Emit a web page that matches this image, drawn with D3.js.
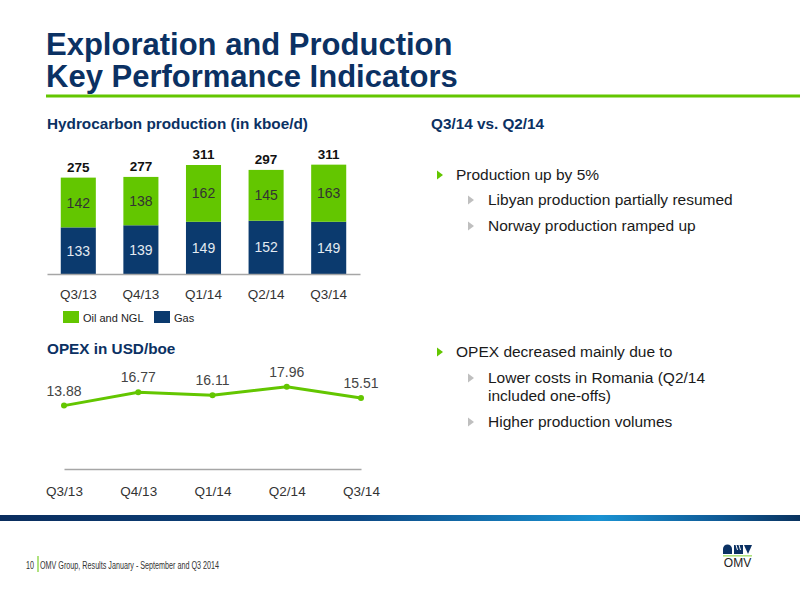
<!DOCTYPE html>
<html>
<head>
<meta charset="utf-8">
<script src="https://cdn.jsdelivr.net/npm/d3@7/dist/d3.min.js"></script>
<style>
  html, body { margin:0; padding:0; background:#fff; }
  svg { display:block; font-family: "Liberation Sans", Arial, Helvetica, sans-serif; }
</style>
</head>
<body>
<svg id="chart" width="800" height="600"></svg>
<script>
// ---------- data ----------
const categories = ["Q3/13", "Q4/13", "Q1/14", "Q2/14", "Q3/14"];
const gasValues  = [133, 139, 149, 152, 149];
const oilValues  = [142, 138, 162, 145, 163];
const totalValues = [275, 277, 311, 297, 311];
const opexValues = [13.88, 16.77, 16.11, 17.96, 15.51];
const legendLabels = ["Oil and NGL", "Gas"];
const titleLines = ["Exploration and Production", "Key Performance Indicators"];
const bullets = [
  {level:1, lines:["Production up by 5%"]},
  {level:2, lines:["Libyan production partially resumed"]},
  {level:2, lines:["Norway production ramped up"]},
  {level:1, lines:["OPEX decreased mainly due to"]},
  {level:2, lines:["Lower costs in Romania (Q2/14", "included one-offs)"]},
  {level:2, lines:["Higher production volumes"]}
];
const footerText = "OMV Group, Results January - September and Q3 2014";
const pageNumber = "10";

// ---------- styles ----------
const NAVY = "#0b3163";
const GAS = "#0b3a6e";
const GREEN = "#63c600";
const svg = d3.select("#chart");

// title
svg.selectAll("text.title").data(titleLines).join("text")
  .attr("x", 46).attr("y", (d,i) => 55 + i*32)
  .attr("font-size", 31).attr("font-weight", "bold").attr("fill", NAVY)
  .text(d => d);
svg.append("rect").attr("x", 46).attr("y", 94.5).attr("width", 754).attr("height", 3).attr("fill", GREEN);

// section headings
svg.append("text").attr("x", 47).attr("y", 129).attr("font-size", 15.3).attr("font-weight", "bold").attr("fill", NAVY)
  .text("Hydrocarbon production (in kboe/d)");
svg.append("text").attr("x", 431).attr("y", 129).attr("font-size", 15.3).attr("font-weight", "bold").attr("fill", NAVY)
  .text("Q3/14 vs. Q2/14");
svg.append("text").attr("x", 47).attr("y", 354).attr("font-size", 15.3).attr("font-weight", "bold").attr("fill", NAVY)
  .text("OPEX in USD/boe");

// ---------- bar chart ----------
const barData = categories.map((c,i) => ({cat:c, gas:gasValues[i], oil:oilValues[i], total:totalValues[i]}));
const x = d3.scaleBand().domain(categories).range([47, 360]).paddingInner(0.44).paddingOuter(0.22);
const y = d3.scaleLinear().domain([0, 311]).range([274, 165]);
const stack = d3.stack().keys(["gas", "oil"]);
const series = stack(barData);
const colors = {gas: GAS, oil: GREEN};
const labelColors = {gas: "#e4eaf1", oil: "#333333"};

const g = svg.append("g");
const layers = g.selectAll("g.layer").data(series).join("g").attr("class", "layer");
layers.selectAll("rect").data(d => d.map(v => Object.assign(v, {key: d.key}))).join("rect")
  .attr("x", d => x(d.data.cat))
  .attr("width", x.bandwidth())
  .attr("y", d => y(d[1]))
  .attr("height", d => y(d[0]) - y(d[1]))
  .attr("fill", d => colors[d.key]);
layers.selectAll("text").data(d => d).join("text")
  .attr("x", d => x(d.data.cat) + x.bandwidth()/2)
  .attr("y", d => (y(d[0]) + y(d[1]))/2 + 5)
  .attr("text-anchor", "middle").attr("font-size", 14)
  .attr("fill", d => labelColors[d.key])
  .text(d => d.data[d.key]);
// totals
g.selectAll("text.total").data(barData).join("text").attr("class", "total")
  .attr("x", d => x(d.cat) + x.bandwidth()/2)
  .attr("y", d => y(d.total) - 6)
  .attr("text-anchor", "middle").attr("font-size", 13.5).attr("font-weight", "bold").attr("fill", "#111")
  .text(d => d.total);
// axis
const xAxis = g.append("g").attr("transform", "translate(0,274)").call(d3.axisBottom(x).tickSize(0).tickPadding(15));
xAxis.select(".domain").attr("stroke", "#a6a6a6").attr("stroke-width", 1.5);
xAxis.selectAll("text").attr("font-size", 13.5).attr("fill", "#333").attr("font-family", null);

// legend
const legend = svg.append("g");
const legendItems = [{label: legendLabels[0], color: GREEN, x: 63}, {label: legendLabels[1], color: GAS, x: 154}];
legend.selectAll("rect").data(legendItems).join("rect")
  .attr("x", d => d.x).attr("y", 311).attr("width", 16).attr("height", 12).attr("fill", d => d.color);
legend.selectAll("text").data(legendItems).join("text")
  .attr("x", d => d.x + 20).attr("y", 322).attr("font-size", 11).attr("fill", "#222")
  .text(d => d.label);

// ---------- line chart ----------
const x2 = d3.scalePoint().domain(categories).range([64, 361]);
const y2 = d3.scaleLinear().domain([0, 17.96]).range([470, 386.7]);
const lg = svg.append("g");
const xAxis2 = lg.append("g").attr("transform", "translate(0,469)").call(d3.axisBottom(x2).tickSize(0).tickPadding(17));
xAxis2.select(".domain").attr("stroke", "#a6a6a6").attr("stroke-width", 1.5);
xAxis2.selectAll("text").attr("font-size", 13.5).attr("fill", "#333").attr("font-family", null);
const opexData = categories.map((c,i) => ({cat:c, v:opexValues[i]}));
lg.append("path").datum(opexData)
  .attr("fill", "none").attr("stroke", GREEN).attr("stroke-width", 3)
  .attr("d", d3.line().x(d => x2(d.cat)).y(d => y2(d.v)));
lg.selectAll("circle").data(opexData).join("circle")
  .attr("cx", d => x2(d.cat)).attr("cy", d => y2(d.v)).attr("r", 3).attr("fill", GREEN);
lg.selectAll("text.val").data(opexData).join("text").attr("class", "val")
  .attr("x", d => x2(d.cat)).attr("y", d => y2(d.v) - 10)
  .attr("text-anchor", "middle").attr("font-size", 14).attr("fill", "#444")
  .text(d => d3.format(".2f")(d.v));

// ---------- bullets ----------
const bulletY = [180, 205, 231, 357, 383, 427];
const bg = svg.append("g");
bullets.forEach((b, i) => {
  const tx = b.level === 1 ? 437 : 468;
  const cy = bulletY[i] - 5;
  bg.append("path")
    .attr("d", `M${tx},${cy-4.5} L${tx+6},${cy} L${tx},${cy+4.5} Z`)
    .attr("fill", b.level === 1 ? GREEN : "#bfbfbf");
  b.lines.forEach((line, j) => {
    bg.append("text").attr("x", b.level === 1 ? 456 : 488).attr("y", bulletY[i] + j*18)
      .attr("font-size", 15.5).attr("fill", "#1a1a1a").text(line);
  });
});

// ---------- footer ----------
const defs = svg.append("defs");
const grad = defs.append("linearGradient").attr("id", "band").attr("x1", "0%").attr("x2", "100%");
grad.append("stop").attr("offset", "0%").attr("stop-color", "#0a2d5e");
grad.append("stop").attr("offset", "45%").attr("stop-color", "#0d4a86");
grad.append("stop").attr("offset", "75%").attr("stop-color", "#1a92d2");
grad.append("stop").attr("offset", "90%").attr("stop-color", "#0f5a96");
grad.append("stop").attr("offset", "100%").attr("stop-color", "#0a335f");
svg.append("rect").attr("x", 0).attr("y", 515).attr("width", 800).attr("height", 6).attr("fill", "url(#band)");

svg.append("text").attr("x", 26).attr("y", 569).attr("font-size", 10).attr("fill", "#333")
  .attr("textLength", 8).attr("lengthAdjust", "spacingAndGlyphs").text(pageNumber);
svg.append("rect").attr("x", 37.5).attr("y", 556).attr("width", 1).attr("height", 16).attr("fill", GREEN);
svg.append("text").attr("x", 40).attr("y", 569).attr("font-size", 10).attr("fill", "#333")
  .attr("textLength", 179).attr("lengthAdjust", "spacingAndGlyphs").text(footerText);

// logo
const logo = svg.append("g").attr("transform", "translate(723,545)");
logo.append("path").attr("d", "M0,4 A4.5,4.5 0 1,1 9,4 L9,9 L0,9 Z").attr("fill", NAVY);
logo.append("path").attr("d", "M11,0 L20,0 L20,9 L11,9 Z").attr("fill", NAVY);
logo.append("path").attr("d", "M13,0 L14.5,5 M16,0 L17.5,5").attr("stroke", "#fff").attr("stroke-width", 1);
logo.append("path").attr("d", "M21,0 L29,0 L25,9 Z").attr("fill", NAVY);
logo.append("rect").attr("x", 0).attr("y", 10.5).attr("width", 29).attr("height", 0.8).attr("fill", GREEN);
logo.append("text").attr("x", 14.5).attr("y", 22).attr("text-anchor", "middle").attr("font-size", 12).attr("fill", "#222").text("OMV");
</script>
</body>
</html>
